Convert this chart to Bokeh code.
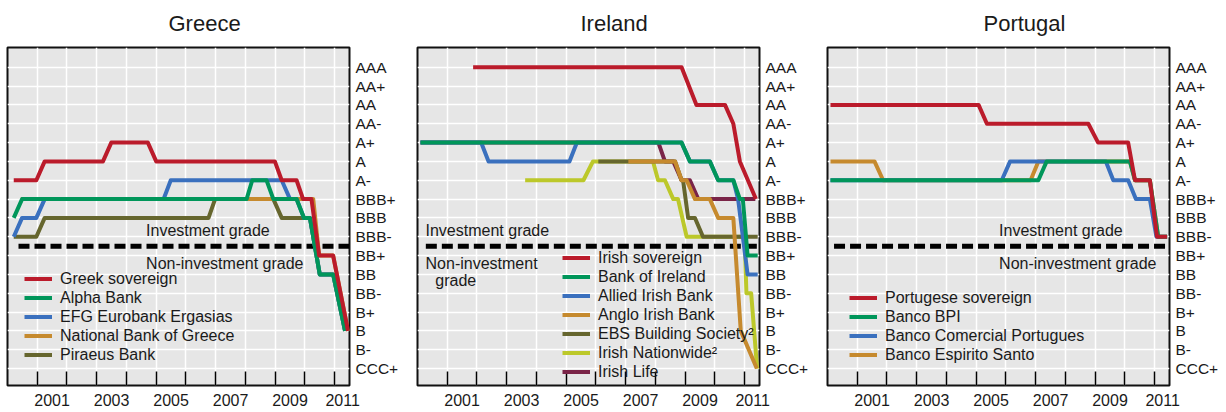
from bokeh.plotting import figure
from bokeh.layouts import row
from bokeh.models import FixedTicker, CustomJSTickFormatter, Legend, LegendItem, ColumnDataSource
from bokeh.core.properties import value
from bokeh.embed import file_html
from bokeh.resources import INLINE

# ---------------- data ----------------
RATINGS = ["CCC+", "B-", "B", "B+", "BB-", "BB", "BB+", "BBB-", "BBB", "BBB+",
           "A-", "A", "A+", "AA-", "AA", "AA+", "AAA"]
year_ticks = [2001, 2002, 2003, 2004, 2005, 2006, 2007, 2008, 2009, 2010, 2011]
year_label_pos = [2001.5, 2003.5, 2005.5, 2007.5, 2009.5, 2011.27]
threshold = 6.5  # between BBB- and BB+

# Greece
greek_sov_x = [2000.21, 2000.97, 2001.25, 2003.21, 2003.49, 2004.72, 2005.0, 2008.99, 2009.22, 2009.72, 2009.94, 2010.22, 2010.48, 2010.95, 2011.45]
greek_sov_r = ["A-", "A-", "A", "A", "A+", "A+", "A", "A", "A-", "A-", "BBB+", "BBB+", "BB+", "BB+", "B"]
alpha_x = [2000.21, 2000.49, 2008.04, 2008.23, 2008.71, 2008.94, 2009.72, 2009.97, 2010.17, 2010.5, 2010.95, 2011.35]
alpha_r = ["BBB", "BBB+", "BBB+", "A-", "A-", "BBB+", "BBB+", "BBB", "BBB", "BB", "BB", "B"]
efg_x = [2000.21, 2000.49, 2000.97, 2001.25, 2005.25, 2005.49, 2009.22, 2009.5, 2009.72, 2009.97, 2010.17, 2010.5, 2010.95, 2011.35]
efg_r = ["BBB-", "BBB", "BBB", "BBB+", "BBB+", "A-", "A-", "BBB+", "BBB+", "BBB", "BBB", "BB", "BB", "B"]
nbg_x = [2000.45, 2010.28, 2010.48, 2010.95, 2011.45]
nbg_r = ["BBB+", "BBB+", "BB+", "BB+", "B"]
piraeus_x = [2000.21, 2000.97, 2001.25, 2006.76, 2006.98, 2008.94, 2009.22, 2010.17, 2010.5, 2010.95, 2011.35]
piraeus_r = ["BBB-", "BBB-", "BBB", "BBB", "BBB+", "BBB+", "BBB", "BBB", "BB", "BB", "B"]

# Ireland
irish_sov_x = [2001.87, 2008.88, 2009.38, 2010.34, 2010.62, 2010.84, 2011.38]
irish_sov_r = ["AAA", "AAA", "AA", "AA", "AA-", "A", "BBB+"]
boi_x = [2000.1, 2008.88, 2009.16, 2009.83, 2010.11, 2010.62, 2010.84, 2010.94, 2011.1, 2011.44]
boi_r = ["A+", "A+", "A", "A", "A-", "A-", "BBB+", "BBB+", "BB+", "BB+"]
aib_x = [2000.1, 2002.14, 2002.39, 2005.11, 2005.36, 2008.88, 2009.16, 2009.83, 2010.11, 2010.62, 2010.78, 2011.1, 2011.44]
aib_r = ["A+", "A+", "A", "A", "A+", "A+", "A", "A", "A-", "A-", "BBB+", "BB", "BB"]
anglo_x = [2007.09, 2008.66, 2008.88, 2009.05, 2009.33, 2009.83, 2010.11, 2010.62, 2010.87, 2011.41]
anglo_r = ["A", "A", "A-", "A-", "BBB+", "BBB+", "BBB", "BBB", "B", "CCC+"]
ebs_x = [2006.08, 2008.66, 2008.88, 2008.93, 2009.1, 2009.33, 2009.6, 2011.44]
ebs_r = ["A", "A", "A-", "A-", "BBB", "BBB", "BBB-", "BBB-"]
nationwide_x = [2003.62, 2005.58, 2005.9, 2007.92, 2008.09, 2008.32, 2008.6, 2008.76, 2009.05, 2011.0, 2011.06, 2011.22, 2011.42]
nationwide_r = ["A-", "A-", "A", "A", "A-", "A-", "BBB+", "BBB+", "BBB-", "BBB-", "BB-", "BB-", "CCC+"]
irish_life_x = [2000.1, 2008.1, 2008.32, 2008.6, 2008.88, 2009.16, 2009.44, 2011.36]
irish_life_r = ["A+", "A+", "A", "A", "A-", "A-", "BBB+", "BBB+"]

# Portugal
pt_sov_x = [2000.1, 2005.08, 2005.36, 2008.77, 2009.1, 2010.11, 2010.34, 2010.84, 2011.08, 2011.42]
pt_sov_r = ["AA", "AA", "AA-", "AA-", "A+", "A+", "A-", "A-", "BBB-", "BBB-"]
bpi_x = [2000.1, 2007.09, 2007.37, 2010.17, 2010.34, 2010.84, 2011.12, 2011.42]
bpi_r = ["A-", "A-", "A", "A", "A-", "A-", "BBB-", "BBB-"]
bcp_x = [2000.1, 2005.86, 2006.14, 2009.36, 2009.61, 2010.11, 2010.37, 2010.84, 2011.06, 2011.42]
bcp_r = ["A-", "A-", "A", "A", "A-", "A-", "BBB+", "BBB+", "BBB-", "BBB-"]
bes_x = [2000.1, 2001.58, 2001.87, 2006.83, 2007.09, 2010.17, 2010.34, 2010.84, 2011.12, 2011.42]
bes_r = ["A", "A", "A-", "A-", "A", "A", "A-", "A-", "BBB-", "BBB-"]

# ---------------- style ----------------
RED = "#BB1B2B"
GREEN = "#00965A"
BLUE = "#3A70BE"
ORANGE = "#C68A2E"
OLIVE = "#66662E"
YELLOW = "#BCC82A"
MAROON = "#7A2448"
FONT = "Liberation Sans"
TXT = "#1a1a1a"

panels = [
    dict(title="Greece", title_offset=161, width=410, dash_start=2000.37,
         series=[("Greek sovereign", greek_sov_x, greek_sov_r, RED),
                 ("Alpha Bank", alpha_x, alpha_r, GREEN),
                 ("EFG Eurobank Ergasias", efg_x, efg_r, BLUE),
                 ("National Bank of Greece", nbg_x, nbg_r, ORANGE),
                 ("Piraeus Bank", piraeus_x, piraeus_r, OLIVE)],
         texts=[("Investment grade", 2004.66, 7.33), ("Non-investment grade", 2004.66, 5.57)],
         legend_loc=(17, 21), dash_end=2011.5),
    dict(title="Ireland", title_offset=163, width=410, dash_start=2000.28,
         series=[("Irish sovereign", irish_sov_x, irish_sov_r, RED),
                 ("Bank of Ireland", boi_x, boi_r, GREEN),
                 ("Allied Irish Bank", aib_x, aib_r, BLUE),
                 ("Anglo Irish Bank", anglo_x, anglo_r, ORANGE),
                 ("EBS Building Society\u00b2", ebs_x, ebs_r, OLIVE),
                 ("Irish Nationwide\u00b2", nationwide_x, nationwide_r, YELLOW),
                 ("Irish Life", irish_life_x, irish_life_r, MAROON)],
         texts=[("Investment grade", 2000.27, 7.33), ("Non-investment", 2000.27, 5.57), ("grade", 2000.6, 4.68)],
         legend_loc=(145, 4), dash_end=2011.42),
    dict(title="Portugal", title_offset=156, width=406, dash_start=2000.22,
         series=[("Portugese sovereign", pt_sov_x, pt_sov_r, RED),
                 ("Banco BPI", bpi_x, bpi_r, GREEN),
                 ("Banco Comercial Portugues", bcp_x, bcp_r, BLUE),
                 ("Banco Espirito Santo", bes_x, bes_r, ORANGE)],
         texts=[("Investment grade", 2005.77, 7.33), ("Non-investment grade", 2005.77, 5.57)],
         legend_loc=(22, 21), dash_end=2011.42),
]

FRAME_W = 342
FRAME_H = 338
LEFT = 7
TOP = 47


def make_panel(cfg):
    p = figure(frame_width=FRAME_W, frame_height=FRAME_H, x_range=(2000, 2011.5), y_range=(-0.9, 17.05),
               y_axis_location="right", output_backend="svg", toolbar_location=None,
               min_border_left=LEFT, min_border_right=cfg["width"] - FRAME_W - LEFT, min_border_top=TOP,
               min_border_bottom=27, background_fill_color="#e6e6e6", border_fill_color="white",
               outline_line_color="#111111", outline_line_width=2)
    p.title.text = cfg["title"]
    p.title.text_font = FONT
    p.title.text_font_size = "22px"
    p.title.text_font_style = "normal"
    p.title.text_color = TXT
    p.title.align = "left"
    p.title.offset = cfg["title_offset"]
    p.title.vertical_align = "top"
    p.title.standoff = 20

    # x axis
    xa = p.xaxis[0]
    xa.ticker = FixedTicker(ticks=year_label_pos, minor_ticks=year_ticks)
    xa.formatter = CustomJSTickFormatter(code="return String(Math.floor(tick));")
    xa.major_tick_in = 0
    xa.major_tick_out = 0
    xa.minor_tick_in = 14
    xa.minor_tick_out = 0
    xa.minor_tick_line_color = "black"
    xa.minor_tick_line_width = 1.5
    xa.axis_line_color = None
    xa.major_label_standoff = 8
    xa.major_label_text_font = FONT
    xa.major_label_text_font_size = "16px"
    xa.major_label_text_color = TXT

    # y axis
    ya = p.yaxis[0]
    ya.ticker = FixedTicker(ticks=list(range(len(RATINGS))))
    ya.major_label_overrides = {i: r for i, r in enumerate(RATINGS)}
    ya.major_tick_in = 0
    ya.major_tick_out = 0
    ya.minor_tick_in = 0
    ya.minor_tick_out = 0
    ya.axis_line_color = None
    ya.major_label_standoff = 6
    ya.major_label_text_font = FONT
    ya.major_label_text_font_size = "15.5px"
    ya.major_label_text_color = TXT

    p.xgrid.grid_line_color = None
    p.xgrid.minor_grid_line_color = "white"
    p.xgrid.minor_grid_line_width = 1.5
    p.ygrid.grid_line_color = "white"
    p.ygrid.grid_line_width = 1.5

    # threshold dashed line
    p.line([cfg["dash_start"], cfg["dash_end"]], [threshold, threshold], line_color="black",
           line_width=5, line_dash="11 5")

    # annotations
    tsrc = ColumnDataSource(dict(x=[t[1] for t in cfg["texts"]], y=[t[2] for t in cfg["texts"]],
                                 text=[t[0] for t in cfg["texts"]]))
    p.text(x="x", y="y", text="text", source=tsrc, text_font=value(FONT), text_font_size="16px",
           text_baseline="middle", text_align="left", text_color=TXT)

    # series (first legend entry on top)
    renderers = {}
    for name, xs, rs, color in reversed(cfg["series"]):
        ys = [RATINGS.index(r) for r in rs]
        renderers[name] = p.line(xs, ys, line_color=color, line_width=4, line_join="round")
    items = [LegendItem(label=name, renderers=[renderers[name]]) for name, *_ in cfg["series"]]
    legend = Legend(items=items, location=cfg["legend_loc"], background_fill_alpha=0,
                    border_line_alpha=0, padding=0, margin=0, spacing=0, glyph_width=28,
                    glyph_height=19, label_height=19, label_standoff=8,
                    label_text_font=FONT, label_text_font_size="16px", label_text_color=TXT)
    p.add_layout(legend)
    return p


plots = [make_panel(c) for c in panels]
layout = row(*plots)
open("out.html", "w").write(file_html(layout, INLINE))
